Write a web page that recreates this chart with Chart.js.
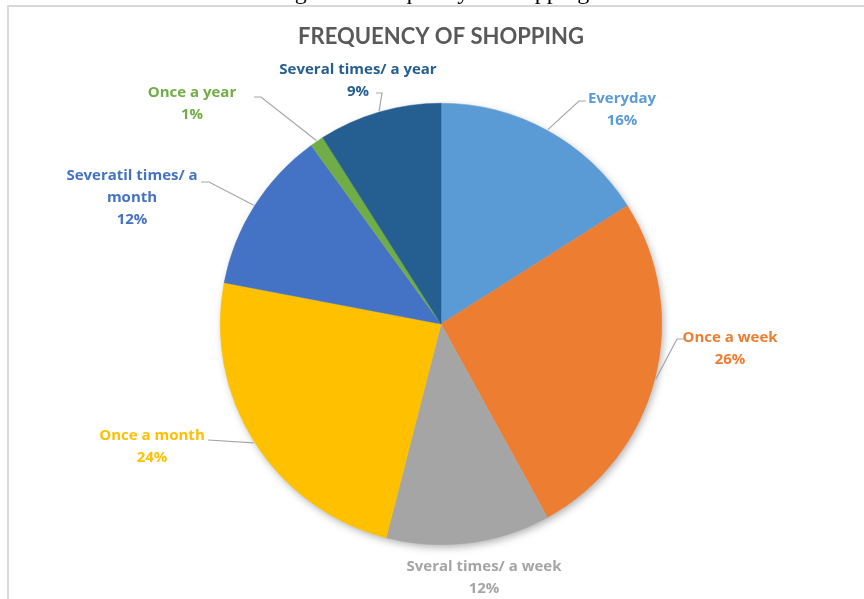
<!DOCTYPE html>
<html>
<head>
<meta charset="utf-8">
<script src="https://cdn.jsdelivr.net/npm/chart.js@4.4.1/dist/chart.umd.min.js"></script>
<style>
    html, body { margin: 0; padding: 0; background: #ffffff; }
    #wrap { position: relative; width: 864px; height: 599px; }
</style>
</head>
<body>
<div id="wrap"><canvas id="pie" width="864" height="599"></canvas></div>
<script>
// ---- data ----
const categories = [
    'Everyday',
    'Once a week',
    'Sveral times/ a week',
    'Once a month',
    'Severatil times/ a\nmonth',
    'Once a year',
    'Several times/ a year'
];
const shares = [16, 26, 12, 24, 12, 1, 9];
const sliceColors = ['#5B9BD5', '#ED7D31', '#A5A5A5', '#FFC000', '#4472C4', '#70AD47', '#255E91'];

// label layout: text centre x, first line y, elbow of leader line
const labelLayout = [
    { x: 622, y: 99,  elbow: [579, 101], end: [586, 101] },
    { x: 730, y: 338, elbow: [677, 339], end: [684, 339] },
    { x: 484, y: 567, elbow: null, end: null },
    { x: 152, y: 436, elbow: [208, 440], end: [208, 440] },
    { x: 132, y: 176, elbow: [209, 182], end: [201, 182] },
    { x: 192, y: 93,  elbow: [261, 97],  end: [254, 97] },
    { x: 358, y: 70,  elbow: [382, 93],  end: [376, 93] }
];

const LABEL_FONT = 'bold 15px "Open Sans", Lato, sans-serif';
const LINE_GAP = 22;

/* ---- frame, caption, title and outside labels ---- */
const decorPlugin = {
    id: 'decor',
    beforeDatasetsDraw: function (chart) {
        const ctx = chart.ctx;
        const arc = chart.getDatasetMeta(0).data[0];
        if (!arc) return;
        // soft shadow behind the whole pie
        ctx.save();
        ctx.shadowColor = 'rgba(0,0,0,0.35)';
        ctx.shadowBlur = 9;
        ctx.shadowOffsetX = 2;
        ctx.shadowOffsetY = 3;
        ctx.beginPath();
        ctx.arc(arc.x, arc.y, arc.outerRadius - 1, 0, Math.PI * 2);
        ctx.fillStyle = '#ffffff';
        ctx.fill();
        ctx.restore();
    },
    afterDraw: function (chart) {
        const ctx = chart.ctx;
        ctx.save();

        // document caption peeking from above
        ctx.fillStyle = '#000000';
        ctx.font = '24px "Liberation Serif", "DejaVu Serif", serif';
        ctx.textAlign = 'center';
        ctx.textBaseline = 'alphabetic';
        ctx.fillText('Figure 2: Frequency of shopping', 432, -1);

        // frame
        ctx.strokeStyle = '#D9D9D9';
        ctx.lineWidth = 2;
        ctx.beginPath();
        ctx.moveTo(870, 6);
        ctx.lineTo(8, 6);
        ctx.lineTo(8, 605);
        ctx.stroke();

        // title
        ctx.fillStyle = '#595959';
        ctx.font = 'bold 22px Lato, "Open Sans", sans-serif';
        ctx.textBaseline = 'middle';
        ctx.fillText('FREQUENCY OF SHOPPING', 441, 37);

        // labels + leader lines
        const meta = chart.getDatasetMeta(0);
        meta.data.forEach(function (el, i) {
            const lay = labelLayout[i];
            const mid = (el.startAngle + el.endAngle) / 2;
            if (lay.elbow) {
                const sx = el.x + Math.cos(mid) * (el.outerRadius + 1);
                const sy = el.y + Math.sin(mid) * (el.outerRadius + 1);
                ctx.strokeStyle = '#A6A6A6';
                ctx.lineWidth = 1.2;
                ctx.beginPath();
                ctx.moveTo(sx, sy);
                ctx.lineTo(lay.elbow[0], lay.elbow[1]);
                ctx.lineTo(lay.end[0], lay.end[1]);
                ctx.stroke();
            }
            const lines = categories[i].split('\n').concat([shares[i] + '%']);
            ctx.fillStyle = sliceColors[i];
            ctx.font = LABEL_FONT;
            ctx.textAlign = 'center';
            ctx.textBaseline = 'middle';
            lines.forEach(function (t, k) {
                ctx.fillText(t, lay.x, lay.y + k * LINE_GAP);
            });
        });
        ctx.restore();
    }
};

new Chart(document.getElementById('pie').getContext('2d'), {
    type: 'pie',
    data: {
        labels: categories,
        datasets: [{
            data: shares,
            backgroundColor: sliceColors,
            borderColor: sliceColors,
            borderWidth: 0.5,
        }]
    },
    options: {
        responsive: false,
        animation: false,
        layout: {
            padding: { top: 103, bottom: 54, left: 100, right: 82 }
        },
        plugins: {
            legend: { display: false },
            tooltip: { enabled: false }
        }
    },
    plugins: [decorPlugin]
});
</script>
</body>
</html>
